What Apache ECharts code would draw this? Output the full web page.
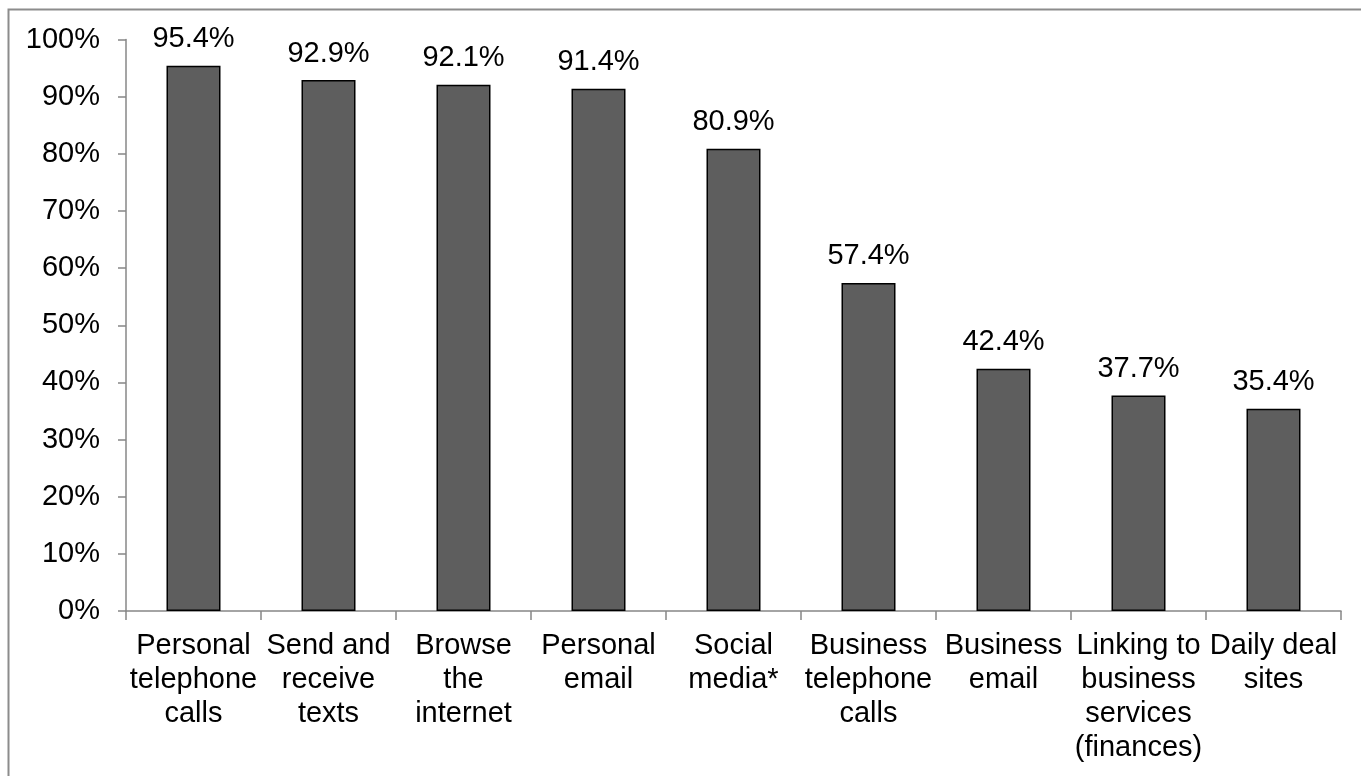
<!DOCTYPE html>
<html>
<head>
<meta charset="utf-8">
<style>
  html, body { margin: 0; padding: 0; background: #fff; }
  #chart { width: 1361px; height: 776px; }
</style>
<script src="https://cdn.jsdelivr.net/npm/echarts@6/dist/echarts.min.js"></script>
</head>
<body>
<div id="chart"></div>
<script>
// Share of respondents using each mobile activity (%)
const categories = [
  'Personal\ntelephone\ncalls',
  'Send and\nreceive\ntexts',
  'Browse\nthe\ninternet',
  'Personal\nemail',
  'Social\nmedia*',
  'Business\ntelephone\ncalls',
  'Business\nemail',
  'Linking to\nbusiness\nservices\n(finances)',
  'Daily deal\nsites'
];
const values = [95.4, 92.9, 92.1, 91.4, 80.9, 57.4, 42.4, 37.7, 35.4];
const yTicks = { min: 0, max: 100, interval: 10 };

const FONT = '"Liberation Sans", Arial, sans-serif';
const chart = echarts.init(document.getElementById('chart'), null, { renderer: 'canvas' });

chart.setOption({
  backgroundColor: '#ffffff',
  animation: false,
  textStyle: { fontFamily: FONT },
  graphic: [{
    type: 'rect',
    shape: { x: 8.5, y: 9.5, width: 1420, height: 820 },
    style: { fill: 'none', stroke: '#8c8c8c', lineWidth: 2 },
    silent: true,
    z: 0
  }],
  grid: { left: 126, right: 20, top: 39.5, bottom: 165, containLabel: false },
  xAxis: {
    type: 'category',
    data: categories,
    boundaryGap: true,
    axisLine: { lineStyle: { color: '#878787', width: 1.5 } },
    axisTick: { show: true, length: 9, lineStyle: { color: '#878787', width: 1.5 } },
    axisLabel: {
      interval: 0,
      margin: 18,
      color: '#000',
      fontFamily: FONT,
      fontSize: 29,
      lineHeight: 34,
      align: 'center'
    },
    splitLine: { show: false }
  },
  yAxis: {
    type: 'value',
    min: yTicks.min,
    max: yTicks.max,
    interval: yTicks.interval,
    axisLine: { show: true, lineStyle: { color: '#878787', width: 1.5 } },
    axisTick: { show: true, length: 8, lineStyle: { color: '#878787', width: 1.5 } },
    axisLabel: {
      margin: 26,
      color: '#000',
      fontFamily: FONT,
      fontSize: 29,
      formatter: '{value}%'
    },
    splitLine: { show: false }
  },
  series: [{
    type: 'bar',
    data: values,
    barWidth: 54,
    itemStyle: { color: '#5e5e5e', borderColor: '#000', borderWidth: 1.5 },
    label: {
      show: true,
      position: 'top',
      distance: 12,
      color: '#000',
      fontFamily: FONT,
      fontSize: 29,
      formatter: p => p.value.toFixed(1) + '%'
    }
  }]
});
</script>
</body>
</html>
